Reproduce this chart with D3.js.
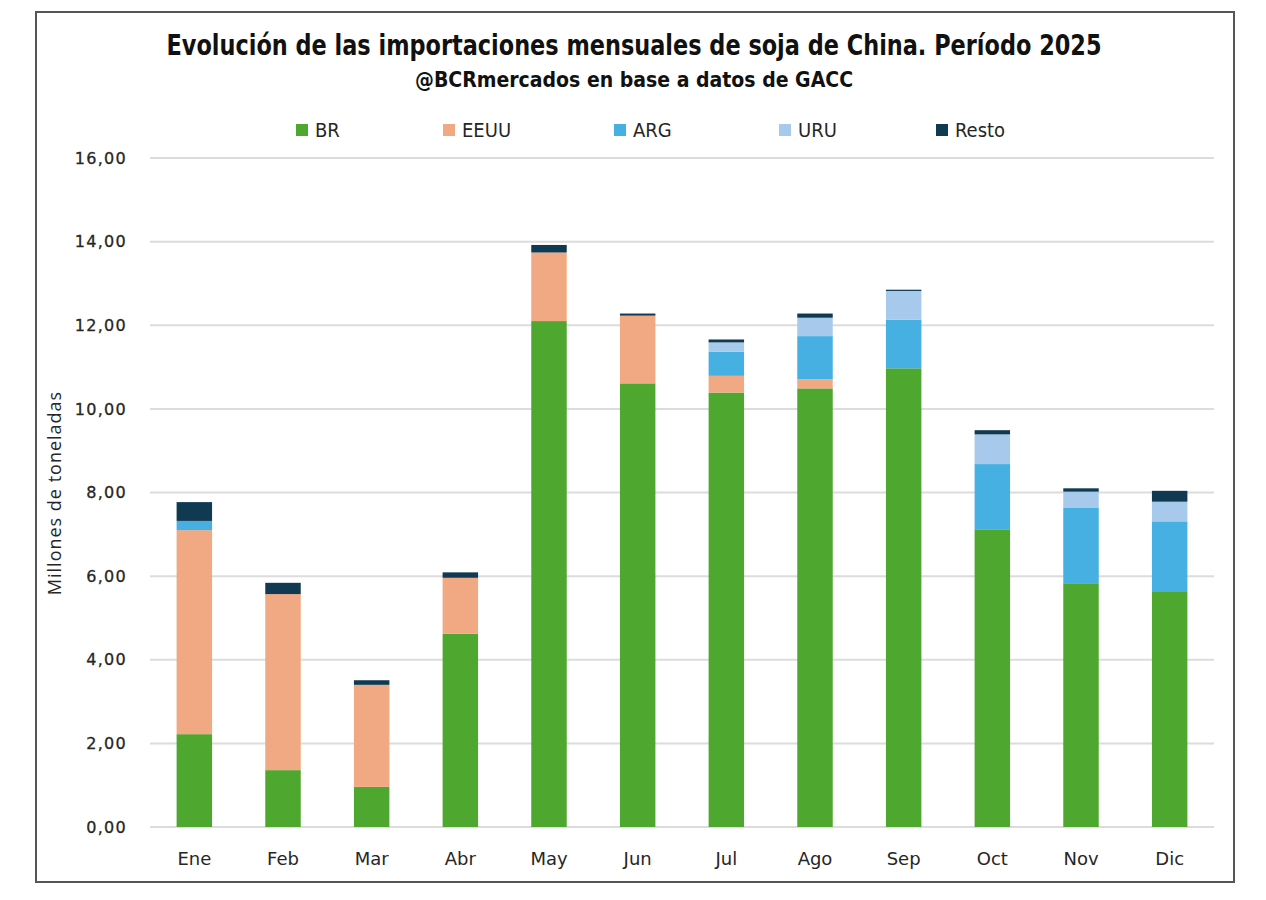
<!DOCTYPE html>
<html><head><meta charset="utf-8">
<script src="https://cdn.jsdelivr.net/npm/d3@7"></script>
<style>body{margin:0;background:#fff}</style>
</head><body>
<svg id="c" width="1266" height="900"></svg>
<script>
const months = ["Ene","Feb","Mar","Abr","May","Jun","Jul","Ago","Sep","Oct","Nov","Dic"];
const seriesNames = ["BR","EEUU","ARG","URU","Resto"];
const BR    = [2.22,1.36,0.96,4.62,12.10,10.61,10.39,10.49,10.97,7.12,5.83,5.64];
const EEUU  = [4.88,4.21,2.44,1.34,1.64,1.62,0.40,0.22,0.00,0.00,0.00,0.00];
const ARG   = [0.22,0.00,0.00,0.00,0.00,0.00,0.58,1.03,1.16,1.56,1.80,1.67];
const URU   = [0.00,0.00,0.00,0.00,0.00,0.00,0.22,0.44,0.69,0.71,0.39,0.47];
const Resto = [0.45,0.27,0.11,0.13,0.18,0.05,0.07,0.10,0.03,0.10,0.08,0.26];
const yTicks = [0,2,4,6,8,10,12,14,16];
const colors = ["#4ea72e","#f1a983","#47b0e3","#a6c9ec","#0f3a52"];

const rows = months.map((m,i)=>({m, BR:BR[i], EEUU:EEUU[i], ARG:ARG[i], URU:URU[i], Resto:Resto[i]}));
const stack = d3.stack().keys(seriesNames)(rows);

const svg = d3.select("#c");
svg.append("rect").attr("x",36).attr("y",12).attr("width",1198).attr("height",870)
  .attr("fill","#fff").attr("stroke","#555").attr("stroke-width",2);

const x = d3.scaleBand().domain(months).range([150,1214]).paddingInner(0.6).paddingOuter(0.3);
const y = d3.scaleLinear().domain([0,16]).range([827,158]);

// gridlines
svg.append("g").selectAll("line").data(yTicks).join("line")
  .attr("x1",150).attr("x2",1214).attr("y1",d=>y(d)).attr("y2",d=>y(d))
  .attr("stroke","#dcdcdc").attr("stroke-width",2);

// y axis labels
const fmt = d => d3.format(".2f")(d).replace(".",",");
const yAxis = svg.append("g").attr("transform","translate(137,0)")
  .call(d3.axisLeft(y).tickValues(yTicks).tickFormat(fmt).tickSize(0).tickPadding(10));
yAxis.select(".domain").remove();
yAxis.selectAll("text").attr("font-family","DejaVu Sans, Verdana, sans-serif")
  .attr("font-size",16).attr("letter-spacing","1.3px").attr("fill","#262626")
  .attr("stroke","#262626").attr("stroke-width",0.3);

// bars
svg.append("g").selectAll("g").data(stack).join("g")
  .attr("fill",(d,i)=>colors[i])
  .selectAll("rect").data(d=>d).join("rect")
  .attr("x",d=>x(d.data.m)).attr("width",x.bandwidth())
  .attr("y",d=>y(d[1])).attr("height",d=>Math.max(0,y(d[0])-y(d[1])));

// x axis labels
const xAxis = svg.append("g").attr("transform","translate(0,840)")
  .call(d3.axisBottom(x).tickSize(0).tickPadding(12));
xAxis.select(".domain").remove();
xAxis.selectAll("text").attr("font-family","DejaVu Sans, Verdana, sans-serif")
  .attr("font-size",18).attr("fill","#262626");

// y title
svg.append("text").attr("transform","translate(61,493) rotate(-90)")
  .attr("text-anchor","middle").attr("font-family","Open Sans, sans-serif")
  .attr("font-size",18).attr("letter-spacing","1px").attr("fill","#262626").text("Millones de toneladas");

// title
svg.append("text").attr("x",634).attr("y",55).attr("text-anchor","middle")
  .attr("font-family","Liberation Sans Narrow, DejaVu Sans Condensed, sans-serif")
  .attr("font-weight","bold").attr("font-size",29).attr("fill","#111")
  .attr("textLength",935).attr("lengthAdjust","spacingAndGlyphs")
  .text("Evolución de las importaciones mensuales de soja de China. Período 2025");
svg.append("text").attr("x",634).attr("y",87).attr("text-anchor","middle")
  .attr("font-family","Liberation Sans Narrow, DejaVu Sans Condensed, sans-serif")
  .attr("font-weight","bold").attr("font-size",21).attr("fill","#111")
  .attr("textLength",438).attr("lengthAdjust","spacingAndGlyphs")
  .text("@BCRmercados  en base a datos de GACC");

// legend
const legX = [296,443,614,779,936];
const lg = svg.append("g").selectAll("g").data(seriesNames).join("g")
  .attr("transform",(d,i)=>`translate(${legX[i]},130)`);
lg.append("rect").attr("x",0).attr("y",-6).attr("width",12).attr("height",12)
  .attr("fill",(d,i)=>colors[i]);
lg.append("text").attr("x",19).attr("y",7)
  .attr("font-family","Liberation Sans Narrow, DejaVu Sans Condensed, sans-serif")
  .attr("font-size",20).attr("fill","#262626").text(d=>d);
</script>
</body></html>
